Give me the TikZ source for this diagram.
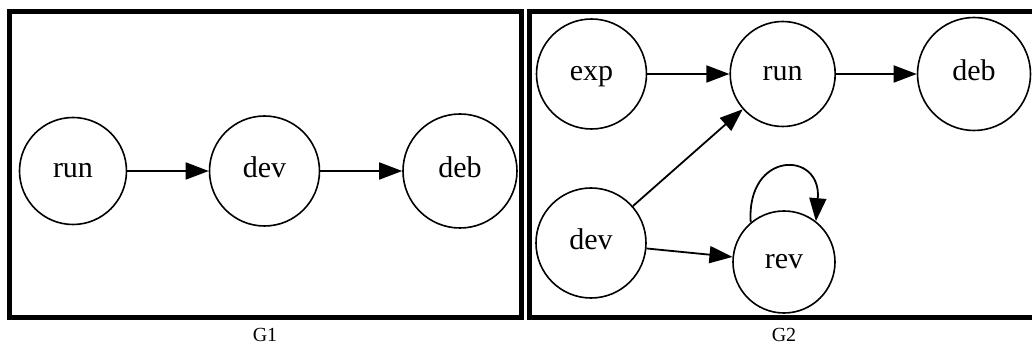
\documentclass[tikz,border=0pt]{standalone}
\usepackage{fontspec}
\setmainfont{Liberation Serif}
\usetikzlibrary{arrows.meta}
\begin{document}
\begin{tikzpicture}[x=1pt,y=-1pt,
  state/.style={circle, draw, line width=1.6pt, inner sep=0pt,
    font=\fontsize{30}{36}\selectfont, text height=12.5pt, text depth=0pt},
  link/.style={line width=1.8pt, -{Triangle[length=23pt,width=17pt]}},
  frame/.style={line width=5.5pt},
  caption/.style={font=\fontsize{20}{24}\selectfont}]
\useasboundingbox (0,0) rectangle (1032,344);

% cluster frames
\draw[frame] (9.5,11.5) rectangle (521.5,317.5);
\draw[frame] (529.5,11.5) rectangle (1040,317.5);

% G1
\node[state, minimum size=107pt] (run1) at (73,171) {run};
\node[state, minimum size=110pt] (dev1) at (264.5,171) {dev};
\node[state, minimum size=114pt] (deb1) at (460,171) {deb};
\draw[link] (run1) -- (dev1);
\draw[link] (dev1) -- (deb1);
\node[caption] (g1) at (265,335) {G1};

% G2
\node[state, minimum size=110pt] (exp2) at (591.5,74) {exp};
\node[state, minimum size=105pt] (run2) at (782.7,74) {run};
\node[state, minimum size=113pt] (deb2) at (974,74) {deb};
\node[state, minimum size=110pt] (dev2) at (591,243) {dev};
\node[state, minimum size=102pt] (rev2) at (784,262) {rev};
\draw[link] (exp2) -- (run2);
\draw[link] (run2) -- (deb2);
\draw[link] (dev2) -- (run2);
\draw[link] (dev2) -- (rev2);
\draw[link] (rev2.130) .. controls +(-4.6,-72) and +(6,-71) .. (rev2.52);
\node[caption] (g2) at (784,335) {G2};
\end{tikzpicture}
\end{document}
